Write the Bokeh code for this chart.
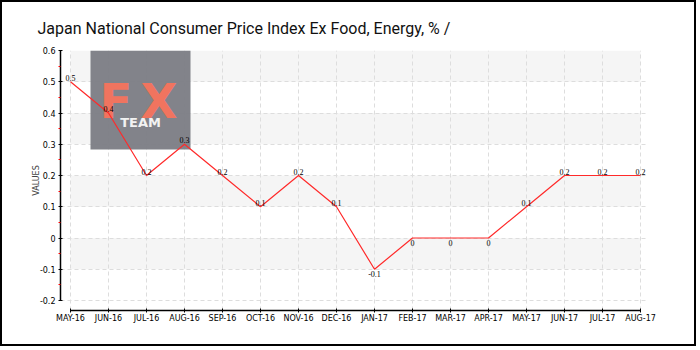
from bokeh.plotting import figure
from bokeh.models import (ColumnDataSource, Range1d, FixedTicker, BoxAnnotation, Label,
                          LabelSet)
from bokeh.embed import file_html
from bokeh.resources import INLINE

months = ["MAY-16", "JUN-16", "JUL-16", "AUG-16", "SEP-16", "OCT-16", "NOV-16", "DEC-16",
          "JAN-17", "FEB-17", "MAR-17", "APR-17", "MAY-17", "JUN-17", "JUL-17", "AUG-17"]
values = [0.5, 0.4, 0.2, 0.3, 0.2, 0.1, 0.2, 0.1, -0.1, 0, 0, 0, 0.1, 0.2, 0.2, 0.2]
y_ticks = [-0.2, -0.1, 0, 0.1, 0.2, 0.3, 0.4, 0.5, 0.6]
y_minor = [-0.15, -0.05, 0.05, 0.15, 0.25, 0.35, 0.45, 0.55]
title = "Japan National Consumer Price Index Ex Food, Energy, %  /"

xs = list(range(len(months)))
labels = [("%g" % v) for v in values]

src = ColumnDataSource(dict(x=xs, y=values, lab=labels))
pos = ColumnDataSource(dict(x=[x for x, v in zip(xs, values) if v > 0],
                            y=[v for v in values if v > 0],
                            lab=[l for l, v in zip(labels, values) if v > 0]))
neg = ColumnDataSource(dict(x=[x for x, v in zip(xs, values) if v <= 0],
                            y=[v for v in values if v <= 0],
                            lab=[l for l, v in zip(labels, values) if v <= 0]))

p = figure(width=696, height=346, output_backend="svg", toolbar_location=None,
           x_range=Range1d(-0.263, 15.21), y_range=Range1d(-0.232, 0.6),
           min_border_left=58, min_border_right=50, min_border_top=48, min_border_bottom=38)
p.styles = {"border": "2px solid black"}
p.outline_line_color = None
p.background_fill_color = "white"
p.border_fill_color = "white"

p.title.text = title
p.title.text_font = "Roboto"
p.title.text_font_size = "16px"
p.title.text_font_style = "normal"
p.title.text_color = "#111111"
p.title.offset = -23
p.title.standoff = 26

# alternating bands between y ticks
for i in range(1, len(y_ticks) - 1, 2):
    p.add_layout(BoxAnnotation(bottom=y_ticks[i], top=y_ticks[i + 1], left=0,
                               right=len(months) - 1, fill_color="#f5f5f5", fill_alpha=1,
                               line_color=None, level="image"))

# logo watermark
p.add_layout(BoxAnnotation(left=30, right=130, top=260, bottom=161,
                           left_units="screen", right_units="screen",
                           top_units="screen", bottom_units="screen",
                           fill_color="#7b7c84", fill_alpha=0.95, line_color=None,
                           level="underlay"))
p.add_layout(Label(x=39, y=182, x_units="screen", y_units="screen", text="F",
                   text_font="DejaVu Sans", text_font_style="bold", text_font_size="48px",
                   text_color="#f0745f", level="underlay"))
p.add_layout(Label(x=80, y=182, x_units="screen", y_units="screen", text="X",
                   text_font="DejaVu Sans", text_font_style="bold", text_font_size="48px",
                   text_color="#f0745f", level="underlay"))
p.add_layout(Label(x=80, y=181, x_units="screen", y_units="screen", text="TEAM",
                   text_font="DejaVu Sans", text_font_style="bold", text_font_size="13px",
                   text_color="#f2f2f2", text_align="center", level="underlay"))

p.line("x", "y", source=src, line_color="#ff2a2a", line_width=1.2)
p.add_layout(LabelSet(x="x", y="y", text="lab", source=pos, text_align="center",
                      text_baseline="bottom", y_offset=1, text_font="DejaVu Sans",
                      text_font_size="8px", text_color="black"))
p.add_layout(LabelSet(x="x", y="y", text="lab", source=neg, text_align="center",
                      text_baseline="top", y_offset=-2, text_font="DejaVu Sans",
                      text_font_size="8px", text_color="black"))

# axes
p.xaxis.ticker = FixedTicker(ticks=xs)
p.xaxis.major_label_overrides = {i: m for i, m in enumerate(months)}
p.xaxis.bounds = (0, len(months) - 1)
p.yaxis.ticker = FixedTicker(ticks=y_ticks, minor_ticks=y_minor)
p.yaxis.major_label_overrides = {t: ("%g" % t) for t in y_ticks}
p.yaxis.bounds = (-0.2, 0.6)
p.yaxis.axis_label = "VALUES"
for ax in (p.xaxis, p.yaxis):
    ax.axis_line_color = "black"
    ax.axis_line_width = 1.5
    ax.major_tick_line_color = "black"
    ax.major_tick_out = 2
    ax.major_tick_in = 2
    ax.major_label_text_font = "DejaVu Sans"
    ax.major_label_text_font_size = "8px"
    ax.major_label_text_color = "black"
p.xaxis.major_label_standoff = 1
p.yaxis.major_label_standoff = 3
p.yaxis.minor_tick_line_color = "red"
p.yaxis.minor_tick_out = 2
p.yaxis.minor_tick_in = 0
p.xaxis.minor_tick_line_color = None
p.yaxis.axis_label_text_font = "DejaVu Sans"
p.yaxis.axis_label_text_font_size = "8px"
p.yaxis.axis_label_text_font_style = "normal"
p.yaxis.axis_label_standoff = -4

p.xgrid.ticker = FixedTicker(ticks=xs)
p.ygrid.ticker = FixedTicker(ticks=y_ticks)
for g in (p.xgrid, p.ygrid):
    g.grid_line_color = "#dddddd"
    g.grid_line_dash = "4 3"
    g.grid_line_width = 1

open("out.html", "w").write(file_html(p, INLINE))
